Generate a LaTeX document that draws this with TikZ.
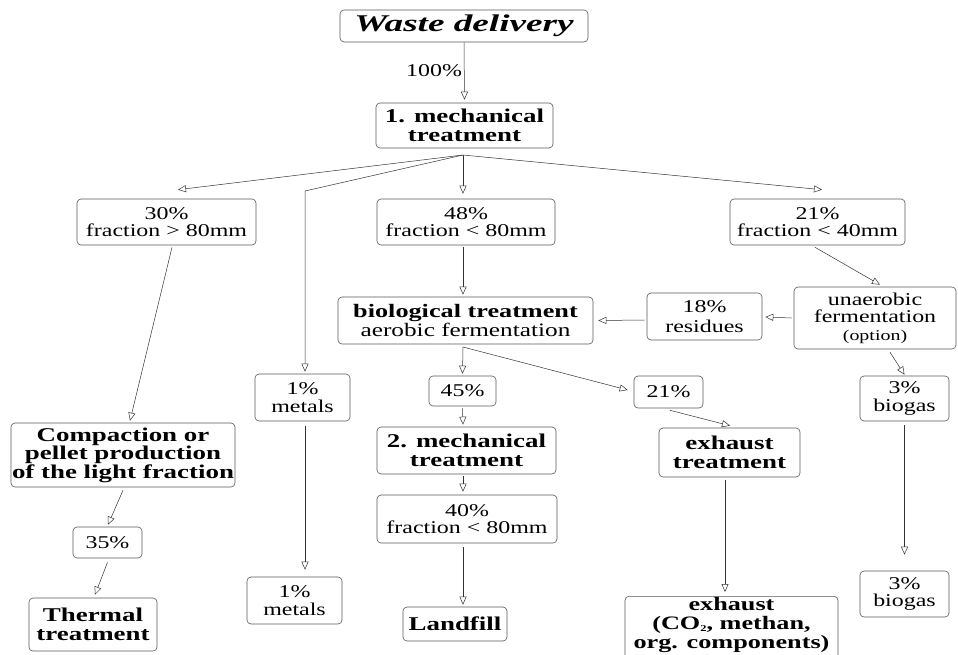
\documentclass[tikz,border=0pt]{standalone}
\usepackage{fontspec}
\setmainfont{Liberation Serif}[FakeStretch=1.33]
\newfontfamily\widebf{Liberation Serif}[FakeStretch=1.38]
\newfontfamily\titlefam{Liberation Serif}[FakeStretch=1.55]
\usetikzlibrary{arrows.meta}
\tikzset{
  box/.style={draw=black!65, line width=0.6pt, rounded corners=4pt, align=center, inner sep=0pt, fill=white},
  nrm/.style={font=\fontsize{18}{17.5}\selectfont},
  bld/.style={font=\widebf\bfseries\fontsize{19.5}{18.5}\selectfont},
  arr/.style={draw=black!80, line width=0.5pt, -{Triangle[open,length=8pt,width=7pt]}}
}
\begin{document}
\begin{tikzpicture}[x=1pt,y=-1pt]
\useasboundingbox (0,0) rectangle (958,654);
\clip (0,0) rectangle (958,654);
% nodes
\node[box, minimum width=248, minimum height=32, font=\titlefam\bfseries\itshape\fontsize{24}{26}\selectfont] (waste) at (464,26) {Waste delivery};
\node[box, bld, minimum width=177, minimum height=45] (mech1) at (464.5,125.5) {1. mechanical\\treatment};
\node[box, nrm, minimum width=179, minimum height=46] (f30) at (166.5,222) {30\%\\fraction > 80mm};
\node[box, nrm, minimum width=178, minimum height=46] (f48) at (466,222) {48\%\\fraction < 80mm};
\node[box, nrm, minimum width=175, minimum height=46] (f21) at (817.5,222) {21\%\\fraction < 40mm};
\node[box, nrm, minimum width=162, minimum height=62] (unaer) at (875,318) {unaerobic\\fermentation\\{\fontsize{15}{16}\selectfont (option)}};
\node[box, nrm, minimum width=115, minimum height=47, font=\fontsize{18}{19.5}\selectfont] (res18) at (704.5,316.5) {18\%\\residues};
\node[box, nrm, minimum width=255, minimum height=47, font=\fontsize{19}{18.5}\selectfont] (bio) at (465.5,320.5) {{\widebf\bfseries biological treatment}\\aerobic fermentation};
\node[box, nrm, minimum width=67, minimum height=30] (p45) at (462.5,391) {45\%};
\node[box, nrm, minimum width=69, minimum height=32] (p21) at (668.5,392) {21\%};
\node[box, bld, minimum width=179, minimum height=47] (mech2) at (466.5,450.5) {2. mechanical\\treatment};
\node[box, nrm, minimum width=180, minimum height=48] (f40) at (467,519) {40\%\\fraction < 80mm};
\node[box, bld, minimum width=104, minimum height=34] (landfill) at (455,624) {Landfill};
\node[box, bld, minimum width=141, minimum height=49] (exhT) at (729.5,452.5) {exhaust\\treatment};
\node[box, anchor=north, minimum width=213, inner ysep=1pt, text depth=22pt, font=\widebf\bfseries\fontsize{19}{19}\selectfont] (exh) at (731.5,596) {exhaust\\(CO{\fontsize{9}{9}\selectfont\raisebox{-2pt}{2}}, methan,\\org. components)};
\node[box, nrm, minimum width=89, minimum height=45] (bio3a) at (904.5,398.5) {3\%\\biogas};
\node[box, nrm, minimum width=89, minimum height=46] (bio3b) at (904.5,594) {3\%\\biogas};
\node[box, nrm, minimum width=95, minimum height=47] (met1a) at (302.5,397.5) {1\%\\metals};
\node[box, nrm, minimum width=95, minimum height=47] (met1b) at (294.5,600.5) {1\%\\metals};
\node[box, bld, minimum width=224, minimum height=64] (compact) at (123,455) {Compaction or\\pellet production\\of the light fraction};
\node[box, nrm, minimum width=69, minimum height=31] (p35) at (107.5,542.5) {35\%};
\node[box, bld, minimum width=128, minimum height=53] (thermal) at (93,624.5) {Thermal\\treatment};
% helper coordinates
\coordinate (F) at (463,155);
\coordinate (M) at (305,191);
\coordinate (B) at (463,347);
% connectors
\draw[arr] (waste.south) -- node[left, nrm, inner sep=2pt] {100\%} ([yshift=3pt]mech1.north);
\draw[arr] (F) -- ([xshift=11.5pt,yshift=9pt]f30.north);
\draw[arr] (F) -- (M) -- ([xshift=2.5pt,yshift=2pt]met1a.north);
\draw[arr] (F) -- ([xshift=-3pt,yshift=5pt]f48.north);
\draw[arr] (F) -- ([xshift=4.5pt,yshift=9pt]f21.north);
\draw[arr] ([xshift=5.5pt,yshift=-2pt]f30.south) -- ([xshift=7pt,yshift=2pt]compact.north);
\draw[arr] ([xshift=-3pt,yshift=-2pt]f48.south) -- ([xshift=-2.5pt,yshift=2pt]bio.north);
\draw[arr] ([xshift=-2.5pt,yshift=-2pt]f21.south) -- ([xshift=5pt,yshift=2pt]unaer.north);
\draw[arr] ([xshift=-2pt]unaer.west) -- ([xshift=3pt,yshift=-0.5pt]res18.east);
\draw[arr] ([xshift=-2pt,yshift=-3.5pt]res18.west) -- ([xshift=5pt]bio.east);
\draw[arr] (B) -- ([yshift=2pt]p45.north);
\draw[arr] (B) -- ([xshift=-6pt,yshift=2pt]p21.west);
\draw[arr] ([yshift=-2pt]p45.south) -- ([xshift=-3.5pt,yshift=2pt]mech2.north);
\draw[arr] ([xshift=-3.5pt,yshift=-2pt]mech2.south) -- ([xshift=-4pt,yshift=3pt]f40.north);
\draw[arr] ([xshift=-4pt,yshift=-4pt]f40.south) -- ([xshift=8pt,yshift=2pt]landfill.north);
\draw[arr] ([xshift=1.5pt,yshift=-2pt]p21.south) -- ([xshift=0.5pt,yshift=2pt]exhT.north);
\draw[arr] ([xshift=-4.5pt,yshift=-3pt]exhT.south) -- ([xshift=-6.5pt,yshift=4pt]exh.north);
\draw[arr] ([xshift=15pt,yshift=-3pt]unaer.south) -- ([yshift=1pt]bio3a.north);
\draw[arr] ([yshift=-4pt]bio3a.south) -- ([yshift=16pt]bio3b.north);
\draw[arr] ([xshift=2.5pt,yshift=-5pt]met1a.south) -- ([xshift=10.5pt,yshift=7pt]met1b.north);
\draw[arr] ([yshift=-3pt]compact.south) -- ([xshift=0.5pt,yshift=2pt]p35.north);
\draw[arr] ([yshift=-4pt]p35.south) -- ([xshift=2pt,yshift=3pt]thermal.north);
\end{tikzpicture}
\end{document}
